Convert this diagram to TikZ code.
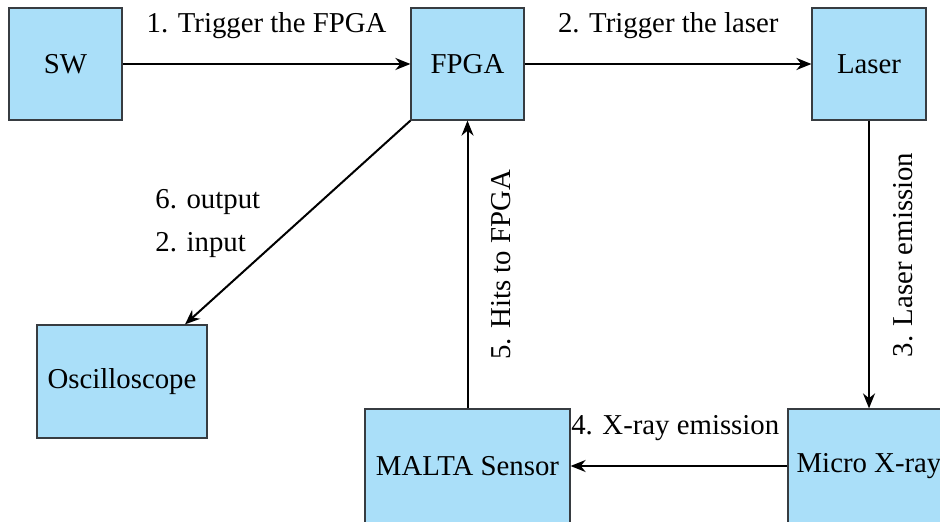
\documentclass[tikz,border=0pt]{standalone}
\usepackage{fontspec}
\setmainfont{LiberationSerif}[Extension=.ttf, UprightFont=*-Regular, BoldFont=*-Bold, ItalicFont=*-Italic]
\usetikzlibrary{arrows.meta,calc}
\definecolor{boxfill}{RGB}{170,223,249}
\definecolor{boxline}{RGB}{55,60,65}
\begin{document}
\begin{tikzpicture}[x=0.5pt,y=-0.5pt,
  font=\rmfamily\fontsize{14.4}{17}\selectfont,
  blk/.style={draw=boxline, line width=0.6pt, fill=boxfill, inner sep=0pt},
  arr/.style={-{Stealth[length=7.5pt,width=6pt,inset=2.4pt]}, line width=1pt},
  lbl/.style={inner sep=0pt, anchor=base}]
\useasboundingbox (0,0) rectangle (940,522);
\clip (0,0) rectangle (940,522);
\node[blk, minimum width=56.5pt, minimum height=56pt] (sw) at (65.5,64) {SW};
\node[blk, minimum width=56.5pt, minimum height=56pt] (fpga) at (467.5,64) {FPGA};
\node[blk, minimum width=57pt, minimum height=56pt] (laser) at (869,64) {Laser};
\node[blk, minimum width=85pt, minimum height=56.5pt] (osc) at (122,381.5) {Oscilloscope};
\node[blk, minimum width=102.5pt, minimum height=57pt] (malta) at (467.5,466) {MALTA Sensor};
\node[blk, minimum width=81pt, minimum height=57pt] (micro) at (869,466) {Micro X-ray};
\draw[arr] (sw) -- (fpga);
\draw[arr] (fpga) -- (laser);
\draw[arr] (laser) -- (micro);
\draw[arr] (micro) -- (malta);
\draw[arr] (malta) -- (fpga);
\coordinate (oscin) at ([xshift=31.5pt]osc.north);
\draw[arr] (fpga.south west) -- (oscin);
\node[lbl] (l1) at ($(sw)!0.5!(fpga)+(0,-31)$) {1. Trigger the FPGA};
\node[lbl] (l2) at ($(fpga)!0.5!(laser)+(0,-31)$) {2. Trigger the laser};
\node[lbl, rotate=90] (l3) at ($(laser)!0.5!(micro)+(43,-10)$) {3. Laser emission};
\node[lbl] (l4) at ($(micro)!0.5!(malta)+(7,-31)$) {4. X-ray emission};
\node[lbl, rotate=90] (l5) at ($(fpga)!0.5!(malta)+(43,0)$) {5. Hits to FPGA};
\node[lbl, anchor=base west] (l6) at (155,209) {6. output};
\node[lbl, anchor=base west] (l7) at (155,252) {2. input};
\end{tikzpicture}
\end{document}
